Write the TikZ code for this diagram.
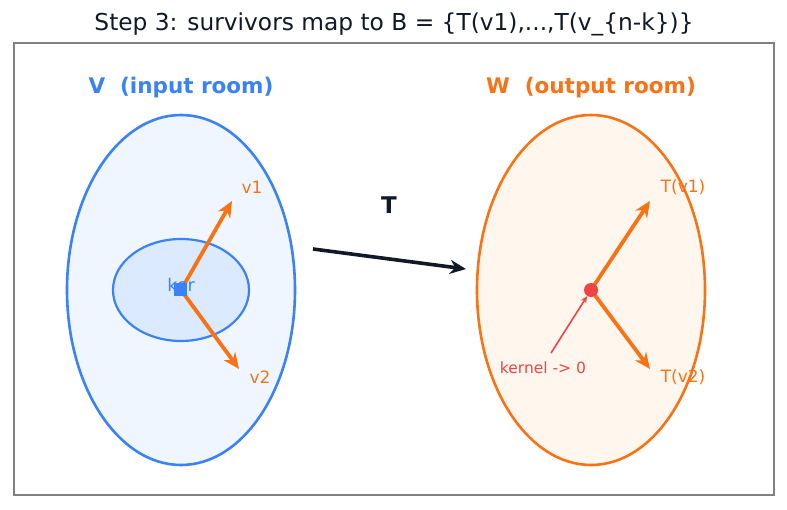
\documentclass[tikz,border=0pt]{standalone}
\usepackage{fontspec}
\setmainfont{DejaVu Sans}
\usetikzlibrary{arrows.meta,shapes.geometric}
\definecolor{cblue}{HTML}{3B82F6}
\definecolor{corange}{HTML}{F97316}
\definecolor{cred}{HTML}{EF4444}
\definecolor{cnavy}{HTML}{111827}
\definecolor{lblue}{HTML}{EFF6FF}
\definecolor{lblue2}{HTML}{DBEAFE}
\definecolor{lorange}{HTML}{FFF7ED}
\definecolor{cgray}{HTML}{808080}
\tikzset{
  vec/.style={draw=corange, line width=3.8pt, -{Stealth[length=16pt,width=14pt]}},
  vlabel/.style={text=corange, font=\fontsize{17}{19}\selectfont, inner sep=0pt},
  roomlabel/.style={font=\fontsize{21.5}{24}\selectfont\bfseries, inner sep=0pt},
}
\begin{document}
\begin{tikzpicture}[x=1pt,y=-1pt]
\useasboundingbox (0,0) rectangle (787,510);
\fill[white] (0,0) rectangle (787,510);
\node[inner sep=0pt, font=\fontsize{23.3}{26}\selectfont, text=cnavy] (title) at (394,24) {Step 3: survivors map to B = \{T(v1),...,T(v\_\{n-k\})\}};
\draw[cgray, line width=1.8pt] (14,43) rectangle (774,495);

% left room
\node[roomlabel, text=cblue] (vlab) at (181,88) {V\ \ (input room)};
\node[draw=cblue, fill=lblue, line width=2.6pt, ellipse, minimum width=228pt, minimum height=350pt, inner sep=0pt] (V) at (181,290) {};
\node[draw=cblue, fill=lblue2, line width=2.2pt, ellipse, minimum width=136pt, minimum height=102pt, inner sep=0pt] (ker) at (181,290) {};
\coordinate (c1) at (181,290);
\coordinate (v1tip) at (232,201);
\coordinate (v2tip) at (239,369);
\draw[vec] (c1) -- (v1tip);
\draw[vec] (c1) -- (v2tip);
\node[fill=cblue, minimum size=13pt, inner sep=0pt] (o1) at (180,290) {};
\node[text=cblue, font=\fontsize{17.5}{19}\selectfont, inner sep=0pt] (kerlab) at (181,285) {ker};
\node[vlabel] (v1lab) at (252,187) {v1};
\node[vlabel] (v2lab) at (260,377) {v2};

% map arrow
\coordinate (ms) at (313,249);
\coordinate (me) at (466,269);
\draw[cnavy, line width=3.6pt, -{Stealth[length=16pt,width=14pt]}] (ms) -- (me);
\node[font=\fontsize{23}{26}\selectfont\bfseries, text=cnavy, inner sep=0pt] (Tlab) at (389,205) {T};

% right room
\node[roomlabel, text=corange] (wlab) at (591,88) {W\ \ (output room)};
\node[draw=corange, fill=lorange, line width=2.6pt, ellipse, minimum width=228pt, minimum height=350pt, inner sep=0pt] (W) at (591,290) {};
\coordinate (c2) at (591,290);
\coordinate (tv1tip) at (650,201);
\coordinate (tv2tip) at (650,369);
\draw[vec] (c2) -- (tv1tip);
\draw[vec] (c2) -- (tv2tip);
\node[circle, fill=cred, minimum size=14pt, inner sep=0pt] (zero) at (591,290) {};
\node[vlabel] (tv1lab) at (683,187) {T(v1)};
\node[vlabel] (tv2lab) at (683,377) {T(v2)};
\node[text=cred, font=\fontsize{15.5}{17}\selectfont, inner sep=0pt] (kz) at (543,368) {kernel -> 0};
\coordinate (kzs) at (551,353);
\draw[cred, line width=1.6pt, -{Stealth[length=7pt,width=6pt]}] (kzs) -- (zero);
\end{tikzpicture}
\end{document}
